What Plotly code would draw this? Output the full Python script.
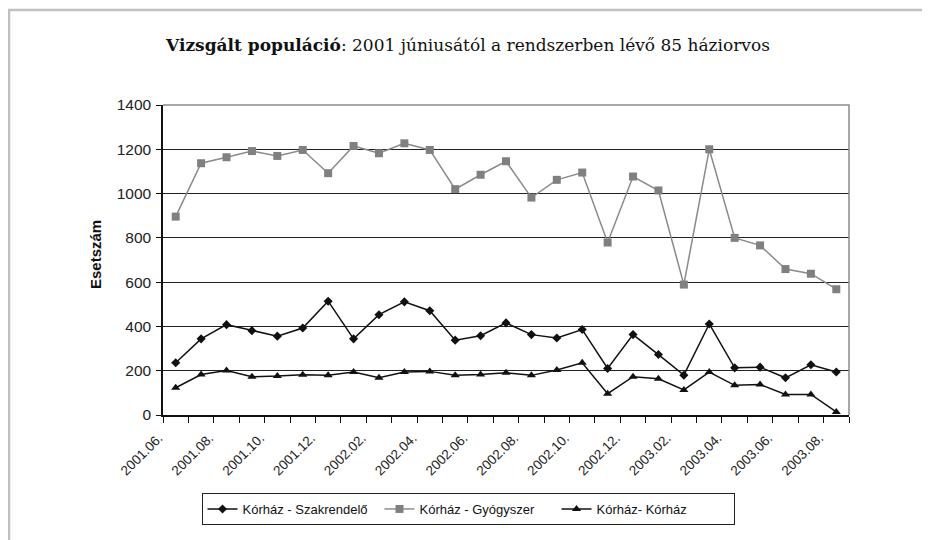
import plotly.graph_objects as go

months = ["2001.06.", "2001.07.", "2001.08.", "2001.09.", "2001.10.", "2001.11.", "2001.12.",
          "2002.01.", "2002.02.", "2002.03.", "2002.04.", "2002.05.", "2002.06.", "2002.07.",
          "2002.08.", "2002.09.", "2002.10.", "2002.11.", "2002.12.", "2003.01.", "2003.02.",
          "2003.03.", "2003.04.", "2003.05.", "2003.06.", "2003.07.", "2003.08."]

szakrendelo = [236, 344, 408, 381, 356, 393, 514, 344, 453, 511, 471, 338, 358, 416,
               363, 348, 386, 210, 363, 273, 180, 411, 213, 216, 168, 227, 194]
gyogyszer = [896, 1137, 1164, 1192, 1170, 1197, 1092, 1215, 1182, 1227, 1197, 1020, 1085, 1146,
             982, 1062, 1095, 779, 1077, 1014, 589, 1200, 800, 766, 659, 638, 568]
korhaz = [123, 183, 201, 173, 176, 182, 179, 194, 168, 194, 197, 179, 183, 191,
          179, 203, 236, 96, 173, 164, 113, 194, 134, 138, 93, 93, 14]

series_names = ["Kórház - Szakrendelő", "Kórház - Gyógyszer", "Kórház- Kórház"]
y_ticks = [0, 200, 400, 600, 800, 1000, 1200, 1400]

x = list(range(len(months)))
label_idx = list(range(0, len(months), 2))

fig = go.Figure()
fig.add_trace(go.Scatter(x=x, y=szakrendelo, name=series_names[0], mode="lines+markers",
                         line=dict(color="#111111", width=1.5),
                         marker=dict(symbol="diamond", size=7, color="#111111")))
fig.add_trace(go.Scatter(x=x, y=gyogyszer, name=series_names[1], mode="lines+markers",
                         line=dict(color="#8a8a8a", width=1.5),
                         marker=dict(symbol="square", size=8, color="#808080")))
fig.add_trace(go.Scatter(x=x, y=korhaz, name=series_names[2], mode="lines+markers",
                         line=dict(color="#111111", width=1.5),
                         marker=dict(symbol="triangle-up", size=8, color="#111111")))

# The page body adds an 8 px margin; work in screen coordinates and shift.
OFF = 8
W, H = 930 - OFF, 540 - OFF
PL, PR, PT, PB = 163, 849, 105, 415  # plot area in screen px
L, R, T, B = PL - OFF, W - (PR - OFF), PT - OFF, H - (PB - OFF)
pw, ph = PR - PL, PB - PT

def px(xs):
    return (xs - PL) / pw

def py(ys):
    return (PB - ys) / ph

fig.update_layout(
    width=W, height=H,
    margin=dict(l=L, r=R, t=T, b=B, autoexpand=False),
    paper_bgcolor="white", plot_bgcolor="white",
    font=dict(family="Liberation Sans, Arial, sans-serif", size=13, color="#222222"),
    title=dict(text="<b>Vizsgált populáció</b>: 2001 júniusától a rendszerben lévő 85 háziorvos",
               x=(468 - OFF) / W, xanchor="center", xref="container",
               y=1 - (45 - OFF) / H, yanchor="middle", yref="container",
               font=dict(family="DejaVu Serif", size=17, color="#111111")),
    showlegend=True,
    legend=dict(orientation="h", x=px(468), xanchor="center", y=py(493), yanchor="top",
                bordercolor="#222222", borderwidth=1, bgcolor="white",
                font=dict(family="Liberation Sans, Arial, sans-serif", size=13, color="#111111"),
                itemwidth=30, entrywidth=132, traceorder="normal"),
    xaxis=dict(range=[-0.5, len(months) - 0.5], tickmode="array",
               tickvals=label_idx, ticktext=[months[i] for i in label_idx],
               tickangle=-45, ticks="", showgrid=False, zeroline=False, automargin=False,
               ticklabelshift=-17, ticklabelstandoff=8,
               showline=True, linecolor="#111111", linewidth=1.5,
               tickfont=dict(size=13.5, color="#222222"),
               minor=dict(tickmode="array", tickvals=[i - 0.5 for i in range(len(months) + 1)],
                          ticks="outside", ticklen=6, tickcolor="#111111", tickwidth=1,
                          showgrid=False)),
    yaxis=dict(range=[0, 1400], tickmode="array", tickvals=y_ticks,
               ticks="outside", ticklen=5, tickcolor="#111111", tickwidth=1,
               showgrid=True, gridcolor="#222222", gridwidth=1, zeroline=False,
               automargin=False, ticklabelstandoff=2,
               showline=True, linecolor="#111111", linewidth=1.5,
               tickfont=dict(size=15.5, color="#222222")),
    annotations=[
        dict(text="<b>Esetszám</b>", xref="paper", yref="paper", x=px(95), y=py(255),
             xanchor="center", yanchor="middle", textangle=-90, showarrow=False,
             font=dict(size=15, color="#111111")),
    ],
    shapes=[
        dict(type="path", xref="paper", yref="paper",
             path="M 0 1 L 1 1 L 1 0",
             line=dict(color="#8c8c8c", width=1.5), layer="above"),
        dict(type="path", xref="paper", yref="paper",
             path=f"M {px(9)} {py(545)} L {px(9)} {py(10)} L {px(935)} {py(10)}",
             line=dict(color="#c0c0c4", width=2.5), layer="above"),
    ],
)

fig.write_html("out.html")
